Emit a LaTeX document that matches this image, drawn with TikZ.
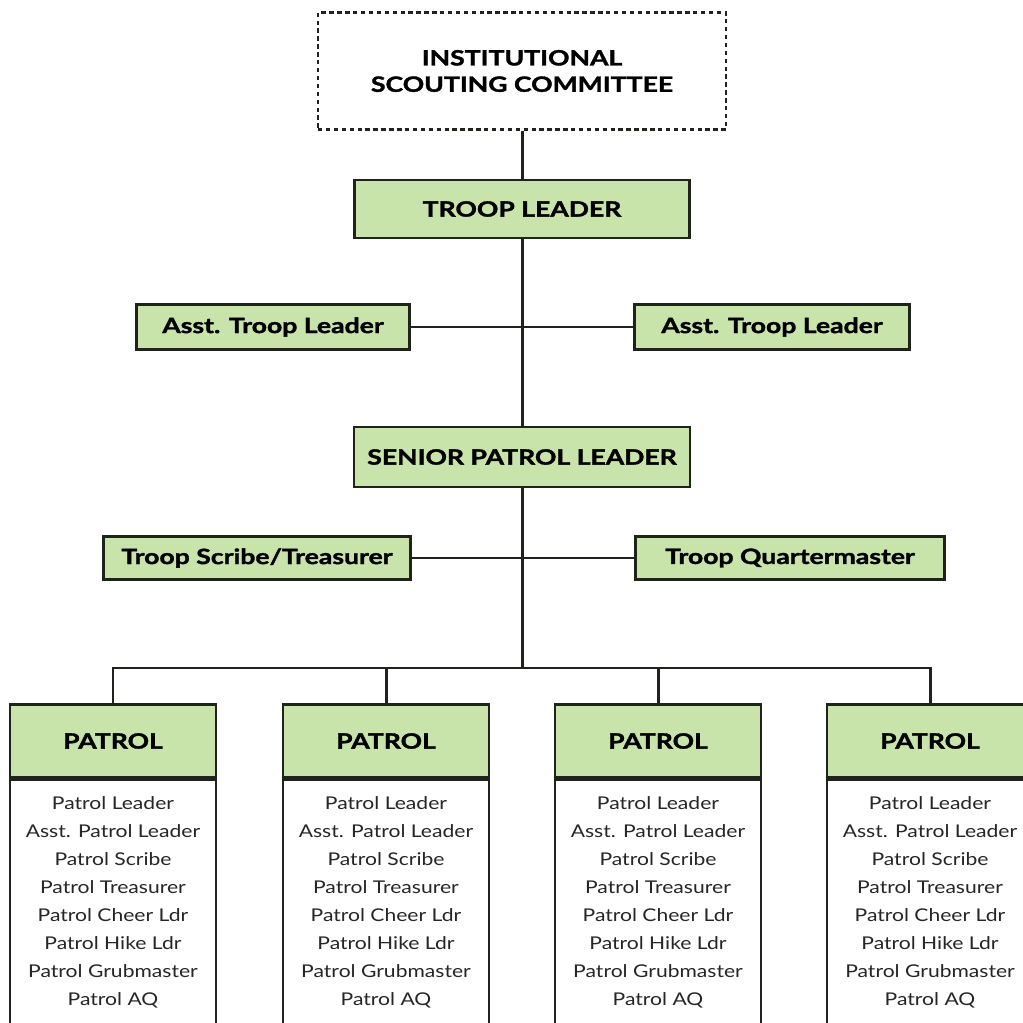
\documentclass[tikz,border=0pt]{standalone}
\usepackage{fontspec}
\setmainfont{Lato}[FakeStretch=1.2]
\newfontfamily\heavyfont{Lato}[FakeStretch=1.26,BoldFeatures={FakeBold=1.6}]
\usetikzlibrary{positioning}
\definecolor{scoutgreen}{RGB}{201,228,171}
\definecolor{boxline}{RGB}{30,36,28}

\begin{document}
\begin{tikzpicture}[x=0.02cm,y=-0.02cm,
    greenbox/.style={draw=boxline,line width=1.3pt,fill=scoutgreen,inner sep=0pt,
      font=\heavyfont\bfseries\fontsize{12}{15}\selectfont},
    patrolhead/.style={greenbox,minimum width=4.12cm,minimum height=1.46cm},
    patrolbody/.style={draw=boxline,line width=1.3pt,fill=white,inner sep=0pt,
      minimum width=4.12cm,minimum height=5.4cm,anchor=north},
    patrollist/.style={align=center,inner sep=0pt,anchor=north,text=black!85,
      font=\fontsize{10}{15.9}\selectfont},
    conn/.style={line width=1.7pt,draw=boxline}]

    \useasboundingbox (0,0) rectangle (1023,1023);
    \clip (0,0) rectangle (1023,1023);

    % top of the troop
    \node[draw=boxline,line width=1.2pt,dash pattern=on 2.5pt off 2pt,inner sep=0pt,align=center,
      minimum width=8.16cm,minimum height=2.34cm,font=\heavyfont\bfseries\fontsize{12}{15}\selectfont]
      (isc) at (522,71) {INSTITUTIONAL\\SCOUTING COMMITTEE};
    \node[greenbox,minimum width=6.7cm,minimum height=1.16cm] (tl) at (522,209) {TROOP LEADER};
    \node[greenbox,minimum width=5.46cm,minimum height=0.9cm] (atl1) at (273,327) {Asst. Troop Leader};
    \node[greenbox,minimum width=5.5cm,minimum height=0.9cm] (atl2) at (772,327) {Asst. Troop Leader};
    \node[greenbox,minimum width=6.72cm,minimum height=1.2cm] (spl) at (522,457) {SENIOR PATROL LEADER};
    \node[greenbox,minimum width=6.14cm,minimum height=0.86cm] (tst) at (257,558) {Troop Scribe/Treasurer};
    \node[greenbox,minimum width=6.18cm,minimum height=0.86cm] (tqm) at (790,558) {Troop Quartermaster};
    \coordinate (bus) at (522,668);

    % patrols
    \foreach \i/\x in {1/113,2/386,3/658,4/930}{
      \node[patrolhead] (p\i) at (\x,741) {PATROL};
      \node[patrolbody] (p\i b) at (p\i.south) {};
      \node[patrollist] (p\i l) at ([yshift=-10pt]p\i.south) {Patrol Leader\\Asst. Patrol Leader\\Patrol Scribe\\Patrol Treasurer\\Patrol Cheer Ldr\\Patrol Hike Ldr\\Patrol Grubmaster\\Patrol AQ};
    }

    % lines
    \draw[conn] (isc) -- (tl);
    \draw[conn] (tl) -- (spl);
    \draw[conn] (atl1) -- (atl2);
    \draw[conn] (spl) -- (bus);
    \draw[conn] (tst) -- (tqm);
    \draw[conn] (p1) |- (bus) -| (p4);
    \draw[conn] (bus) -| (p2);
    \draw[conn] (bus) -| (p3);

\end{tikzpicture}
\end{document}
